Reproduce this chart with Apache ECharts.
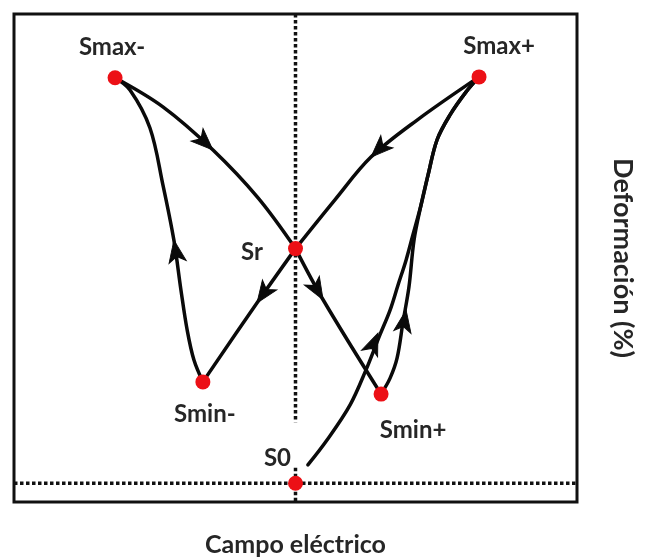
<!DOCTYPE html>
<html>
<head>
<meta charset="utf-8">
<script src="https://cdn.jsdelivr.net/npm/echarts@6/dist/echarts.min.js"></script>
<style>
  html, body { margin: 0; padding: 0; background: #fff; }
  #chart { width: 648px; height: 560px; }
</style>
</head>
<body>
<div id="chart"></div>
<script>
// Butterfly (strain vs. electric field) loop of a ferroelectric.
// Characteristic points
const pointNames = ['Smax-', 'Smax+', 'Sr', 'Smin-', 'Smin+', 'S0'];
const pointX = [-6.41, 6.52, 0, -3.29, 3.04, 0];
const pointY = [8.64, 8.66, 5.0, 2.16, 1.90, 0];

// Branches of the loop, each listed in the direction it is traversed
const branchSmaxNegToSr = [[-6.41, 8.64], [-4.71, 8.02], [-2.93, 7.10], [-1.33, 6.08], [0, 5.0]];
const branchSrToSminNeg = [[0, 5.0], [-1.37, 3.84], [-3.29, 2.16]];
const branchSminNegToSmaxNeg = [[-3.29, 2.16], [-3.61, 2.63], [-3.85, 3.27], [-4.07, 4.12], [-4.32, 5.18],
  [-4.71, 6.36], [-5.17, 7.57], [-5.88, 8.38], [-6.41, 8.64]];
const branchSmaxPosToSr = [[6.52, 8.66], [4.32, 7.74], [2.68, 6.95], [1.40, 6.04], [0, 5.0]];
const branchSrToSminPos = [[0, 5.0], [0.98, 3.91], [3.04, 1.90]];
const branchSminPosToSmaxPos = [[3.04, 1.90], [3.36, 2.24], [3.61, 2.67], [3.82, 3.44], [4.03, 4.18],
  [4.21, 5.18], [4.46, 5.93], [4.71, 6.57], [5.03, 7.32], [5.49, 7.85], [6.06, 8.34], [6.52, 8.66]];
const branchS0ToSmaxPos = [[0.44, 0.39], [1.12, 0.92], [1.94, 1.67], [2.50, 2.41], [2.97, 3.12],
  [3.36, 3.69], [3.64, 4.22], [3.93, 4.76], [4.17, 5.29], [4.46, 5.93], [4.71, 6.57], [5.03, 7.32],
  [5.49, 7.85], [6.06, 8.34], [6.52, 8.66]];

const branches = {
  smaxNegToSr: branchSmaxNegToSr,
  srToSminNeg: branchSrToSminNeg,
  sminNegToSmaxNeg: branchSminNegToSmaxNeg,
  smaxPosToSr: branchSmaxPosToSr,
  srToSminPos: branchSrToSminPos,
  sminPosToSmaxPos: branchSminPosToSmaxPos,
  s0ToSmaxPos: branchS0ToSmaxPos
};

// Direction arrows: which branch and where along it
const arrowBranch = ['smaxNegToSr', 'srToSminNeg', 'sminNegToSmaxNeg', 'smaxPosToSr', 'srToSminPos', 'sminPosToSmaxPos', 's0ToSmaxPos'];
const arrowX = [-2.93, -1.37, -4.32, 2.68, 0.98, 3.93, 2.93];
const arrowY = [7.10, 3.84, 5.18, 6.95, 3.91, 3.69, 3.20];

// Zero-field / zero-strain reference lines (vertical one is interrupted around S0)
const zeroFieldUpper = [[0, 10], [0, 1.30]];
const zeroFieldLower = [[0, 0.33], [0, -0.4]];
const zeroStrain = [[-10, 0], [10, 0]];

const xTitle = 'Campo eléctrico';
const yTitle = 'Deformación (%)';

const FONT = 'Lato, "Open Sans", sans-serif';
const labelPlacement = {
  'Smax-': { position: 'top', offset: [-3, -6] },
  'Smax+': { position: 'top', offset: [20, -6] },
  'Sr': { position: 'left', offset: [-20, 4] },
  'Smin-': { position: 'bottom', offset: [2, 8] },
  'Smin+': { position: 'bottom', offset: [32, 12] },
  'S0': { position: 'top', offset: [-18, 0] }
};

const chart = echarts.init(document.getElementById('chart'), null, { renderer: 'canvas' });

function curveSeries(data) {
  return {
    type: 'line',
    data: data,
    smooth: 0.35,
    showSymbol: false,
    symbol: 'none',
    silent: true,
    z: 3,
    lineStyle: { color: '#0a0a0a', width: 3.5, cap: 'round', join: 'round' }
  };
}

function guideSeries(data) {
  return {
    type: 'line',
    data: data,
    showSymbol: false,
    symbol: 'none',
    silent: true,
    z: 2,
    lineStyle: { color: '#111', width: 3.5, type: [3.5, 2.5] }
  };
}

function buildOption(arrowRotations) {
  const series = [
    guideSeries(zeroFieldUpper),
    guideSeries(zeroFieldLower),
    guideSeries(zeroStrain)
  ];
  Object.keys(branches).forEach(k => series.push(curveSeries(branches[k])));
  series.push({
    type: 'scatter',
    silent: true,
    z: 4,
    symbol: 'arrow',
    symbolSize: [13, 22],
    itemStyle: { color: '#0a0a0a', borderColor: '#0a0a0a', borderWidth: 1, opacity: 1 },
    data: arrowX.map((x, i) => ({ value: [x, arrowY[i]], symbolRotate: arrowRotations ? arrowRotations[i] : 0 }))
  });
  series.push({
    type: 'scatter',
    silent: true,
    z: 5,
    symbolSize: 15,
    itemStyle: { color: '#ec1016', opacity: 1 },
    data: pointNames.map((n, i) => ({
      name: n,
      value: [pointX[i], pointY[i]],
      label: Object.assign({
        show: true,
        formatter: '{b}',
        color: '#262626',
        fontFamily: FONT,
        fontWeight: 'bold',
        fontSize: 24
      }, labelPlacement[n])
    }))
  });
  return {
    animation: false,
    backgroundColor: '#fff',
    grid: {
      left: 14, top: 14, right: 71, bottom: 58,
      outerBoundsMode: 'none',
      containLabel: false,
      show: true, borderColor: '#111', borderWidth: 3, backgroundColor: 'transparent'
    },
    xAxis: {
      type: 'value', min: -10, max: 10,
      axisLine: { show: false }, axisTick: { show: false }, axisLabel: { show: false }, splitLine: { show: false },
      name: xTitle, nameLocation: 'middle', nameGap: 30,
      nameTextStyle: { fontFamily: FONT, fontWeight: 'bold', fontSize: 25, color: '#262626' }
    },
    yAxis: {
      type: 'value', min: -0.4, max: 10, position: 'right',
      axisLine: { show: false }, axisTick: { show: false }, axisLabel: { show: false }, splitLine: { show: false },
      name: yTitle, nameLocation: 'middle', nameGap: 32, nameRotate: -90,
      nameTextStyle: { fontFamily: FONT, fontWeight: 'bold', fontSize: 27, color: '#262626' }
    },
    series: series
  };
}

chart.setOption(buildOption(null));

// Orient every arrow along the tangent of its branch in screen space
const toPx = p => chart.convertToPixel({ gridIndex: 0 }, p);
const rotations = arrowX.map((x, i) => {
  const pts = branches[arrowBranch[i]].map(toPx);
  const a = toPx([x, arrowY[i]]);
  let best = 0, bestD = Infinity;
  for (let j = 0; j < pts.length - 1; j++) {
    const p = pts[j], q = pts[j + 1];
    const vx = q[0] - p[0], vy = q[1] - p[1];
    const t = Math.max(0, Math.min(1, ((a[0] - p[0]) * vx + (a[1] - p[1]) * vy) / (vx * vx + vy * vy)));
    const dx = p[0] + t * vx - a[0], dy = p[1] + t * vy - a[1];
    const d = dx * dx + dy * dy;
    if (d < bestD) { bestD = d; best = j; }
  }
  let j0 = best, j1 = best + 1;
  // at an interior vertex use the neighbours on both sides
  const near = (u) => Math.hypot(u[0] - a[0], u[1] - a[1]) < 2;
  if (near(pts[j1]) && j1 + 1 < pts.length) j1 = j1 + 1;
  if (near(pts[j0]) && j0 > 0) j0 = j0 - 1;
  const dx = pts[j1][0] - pts[j0][0], dy = pts[j1][1] - pts[j0][1];
  return Math.atan2(-dy, dx) * 180 / Math.PI - 90;
});
chart.setOption(buildOption(rotations));
</script>
</body>
</html>
